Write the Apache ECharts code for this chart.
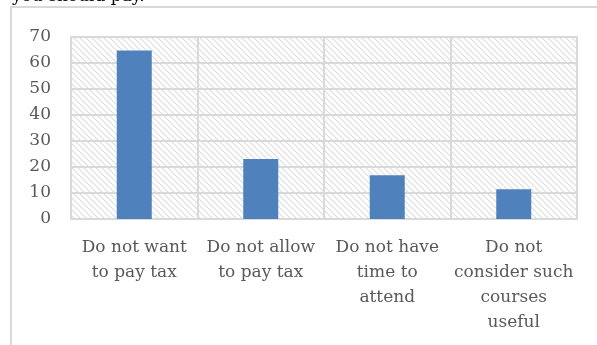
<!DOCTYPE html>
<html>
<head>
<meta charset="utf-8">
<script src="https://cdn.jsdelivr.net/npm/echarts@6/dist/echarts.min.js"></script>
<style>
html, body { margin: 0; padding: 0; background: #fff; }
#chart { width: 597px; height: 345px; }
</style>
</head>
<body>
<div id="chart"></div>
<script>
// Reasons given for not attending paid courses (share of respondents)
const categories = [
  'Do not want\nto pay tax',
  'Do not allow\nto pay tax',
  'Do not have\ntime to\nattend',
  'Do not\nconsider such\ncourses\nuseful'
];
const values = [64.8, 23.1, 16.8, 11.4];
const yTicks = { min: 0, max: 70, interval: 10 };
const captionTail = 'you should pay.';

// Light diagonal hatch used as the plot background
function hatchPattern() {
  const size = 6;
  const c = document.createElement('canvas');
  c.width = size; c.height = size;
  const ctx = c.getContext('2d');
  ctx.fillStyle = '#ffffff';
  ctx.fillRect(0, 0, size, size);
  ctx.strokeStyle = '#dedede';
  ctx.lineWidth = 1.2;
  ctx.beginPath();
  ctx.moveTo(-1, -1); ctx.lineTo(size + 1, size + 1);
  ctx.moveTo(-1, size - 1); ctx.lineTo(1, size + 1);
  ctx.moveTo(size - 1, -1); ctx.lineTo(size + 1, 1);
  ctx.stroke();
  return c;
}

const font = 'DejaVu Serif';
const textColor = '#595959';
const gridColor = '#d9d9d9';

const chart = echarts.init(document.getElementById('chart'), null, { renderer: 'canvas' });
chart.setOption({
  animation: false,
  backgroundColor: '#ffffff',
  graphic: [
    {
      type: 'rect',
      shape: { x: 11, y: 7, width: 640, height: 400 },
      style: { fill: 'none', stroke: gridColor, lineWidth: 2 },
      z: 0
    },
    {
      type: 'text',
      left: 12,
      top: -12,
      style: { text: captionTail, font: '17px "DejaVu Serif"', fill: '#000000' }
    }
  ],
  grid: {
    left: 71, right: 20, top: 37, bottom: 126,
    show: true,
    backgroundColor: { image: hatchPattern(), repeat: 'repeat' },
    borderColor: gridColor,
    borderWidth: 2
  },
  xAxis: {
    type: 'category',
    data: categories,
    axisTick: { show: false },
    axisLine: { show: true, lineStyle: { color: gridColor, width: 2 } },
    splitLine: { show: true, interval: 0, lineStyle: { color: gridColor, width: 2 } },
    axisLabel: {
      interval: 0,
      margin: 16,
      color: textColor,
      fontFamily: font,
      fontSize: 17,
      lineHeight: 25,
      align: 'center'
    }
  },
  yAxis: {
    type: 'value',
    min: yTicks.min,
    max: yTicks.max,
    interval: yTicks.interval,
    axisLine: { show: false },
    axisTick: { show: false },
    splitLine: { show: true, lineStyle: { color: gridColor, width: 2 } },
    axisLabel: {
      margin: 20,
      color: textColor,
      fontFamily: font,
      fontSize: 17
    }
  },
  series: [{
    type: 'bar',
    data: values,
    barWidth: 35,
    itemStyle: { color: '#4f81bd' }
  }]
});
</script>
</body>
</html>
